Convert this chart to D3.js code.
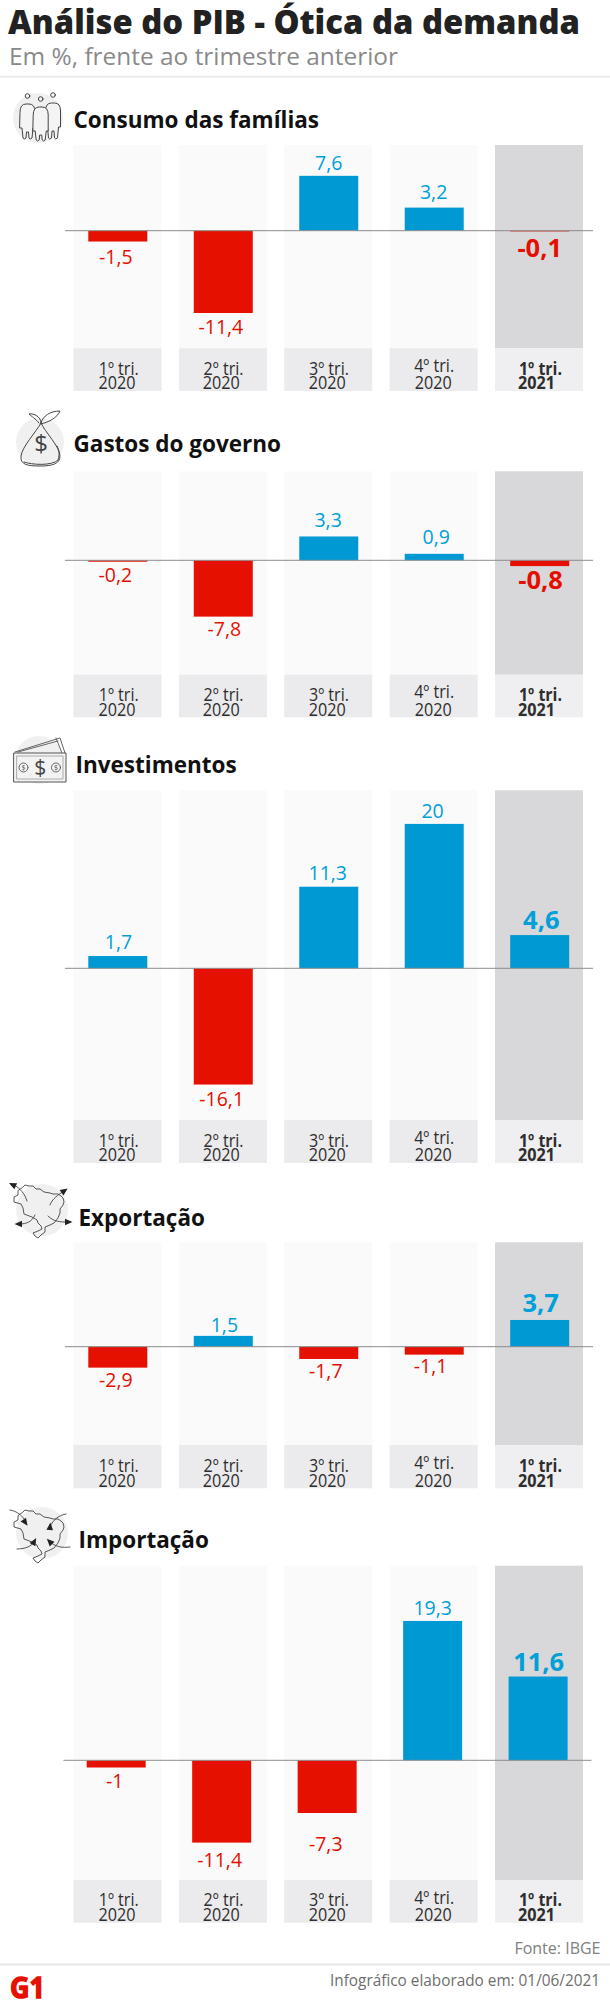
<!DOCTYPE html>
<html lang="pt-BR"><head><meta charset="utf-8">
<script src="https://cdn.jsdelivr.net/npm/d3@7/dist/d3.min.js"></script>
<style>html,body{margin:0;padding:0;background:#fff}svg{display:block}text{font-family:"Open Sans","Noto Sans",sans-serif}</style>
</head><body><div id="c"></div>
<script>
// ---- data ----
const quarters = ["1º tri.","2º tri.","3º tri.","4º tri.","1º tri."];
const years = ["2020","2020","2020","2020","2021"];
const titles = ["Consumo das famílias","Gastos do governo","Investimentos","Exportação","Importação"];
const consumo = [-1.5,-11.4,7.6,3.2,-0.1];
const governo = [-0.2,-7.8,3.3,0.9,-0.8];
const investimentos = [1.7,-16.1,11.3,20,4.6];
const exportacao = [-2.9,1.5,-1.7,-1.1,3.7];
const importacao = [-1,-11.4,-7.3,19.3,11.6];
const series = [consumo,governo,investimentos,exportacao,importacao];

// ---- layout ----
const W=610,H=2014,PX=7.22;
const layout=[
 {top:145,   bgEnd:348.3, end:391,   zero:230.7, tx:73.5, ty:127.7, shift:0},
 {top:471.3, bgEnd:674.7, end:717.3, zero:560.3, tx:73.5, ty:452,   shift:0},
 {top:790.3, bgEnd:1120,  end:1163,  zero:968.3, tx:75.5, ty:773,   shift:0},
 {top:1242.3,bgEnd:1445,  end:1488.3,zero:1346.7,tx:78.5, ty:1225.7,shift:0},
 {top:1565.7,bgEnd:1880,  end:1922.7,zero:1760.3,tx:78.5, ty:1547.7,shift:-1.6}
];
const labelDy=[[22.5,21,-6,-9,25.6],[20.6,19.7,-9.5,-9.8,23],[-7,21,-7,-6,-5.7],[19,-4,19,18.6,-8],[20,24.7,38,-5.7,-5.8]];
const labelDx=[[-2,-2.4,0,-.6,0],[-2.4,1.1,-.6,2,.9],[.7,-1.6,-1,-1.6,1.6],[-2,1.1,-3,-3.6,1],[-1.6,-2,-1.4,0,.6]];

const BLUE="#0099d3",RED="#e61000",TBLUE="#00a0d8",TRED="#e30f00";
const svg=d3.select("#c").append("svg").attr("width",W).attr("height",H).attr("viewBox",`0 0 ${W} ${H}`);
svg.append("rect").attr("width",W).attr("height",H).attr("fill","#fff");

const x=d3.scaleBand().domain(d3.range(5)).range([73.5,583]).paddingInner(0.165).paddingOuter(0);
const fmt=v=>String(v).replace(".",",");

// header
svg.append("text").attr("x",8).attr("y",34).attr("font-size",33).attr("font-weight",800).attr("fill","#222")
 .attr("textLength",572).attr("lengthAdjust","spacingAndGlyphs").text("Análise do PIB - Ótica da demanda");
svg.append("text").attr("x",9).attr("y",65).attr("font-size",23.5).attr("fill","#8a8a8a")
 .attr("textLength",389).attr("lengthAdjust","spacingAndGlyphs").text("Em %, frente ao trimestre anterior");
svg.append("line").attr("x1",0).attr("x2",W).attr("y1",76.7).attr("y2",76.7).attr("stroke","#ececec").attr("stroke-width",2);

series.forEach((vals,p)=>{
 const L=layout[p], g=svg.append("g");
 const y=d3.scaleLinear().domain([0,1]).range([L.zero,L.zero-PX]);
 g.selectAll(".bg").data(vals).join("rect").attr("x",(d,i)=>x(i)).attr("width",x.bandwidth())
  .attr("y",L.top).attr("height",L.bgEnd-L.top).attr("fill",(d,i)=>i==4?"#d8d7da":"#fbfafb");
 g.selectAll(".band").data(vals).join("rect").attr("x",(d,i)=>x(i)).attr("width",x.bandwidth())
  .attr("y",L.bgEnd).attr("height",L.end-L.bgEnd).attr("fill",(d,i)=>i==4?"#efeef0":"#ebeaec");
 const barW=59, cx=i=>x(i)+x.bandwidth()/2+0.3+L.shift+(i*0.1);
 g.selectAll(".bar").data(vals).join("rect")
  .attr("x",(d,i)=>cx(i)-barW/2).attr("width",barW)
  .attr("y",d=>Math.min(y(d),y(0))).attr("height",d=>Math.abs(y(d)-y(0)))
  .attr("fill",d=>d<0?RED:BLUE);
 g.append("line").attr("x1",65+L.shift).attr("x2",593+L.shift).attr("y1",y(0)).attr("y2",y(0)).attr("stroke","#8c8c8c").attr("stroke-width",1);
 g.selectAll(".val").data(vals).join("text")
  .attr("x",(d,i)=>cx(i)+labelDx[p][i]).attr("y",(d,i)=>y(d)+labelDy[p][i])
  .attr("text-anchor","middle").attr("fill",d=>d<0?TRED:TBLUE)
  .attr("font-size",(d,i)=>i==4?25.5:19.5).attr("font-weight",(d,i)=>i==4?700:500).text(fmt);
 g.append("text").attr("x",L.tx).attr("y",L.ty).attr("font-size",22.5).attr("font-weight",700).attr("fill","#111").text(titles[p]);
 const ax=g.append("g").attr("transform",`translate(0,${L.end-42.7})`)
  .call(d3.axisBottom(x).tickSize(0).tickFormat(i=>quarters[i]));
 ax.select(".domain").remove();
 ax.selectAll("text").each(function(i){
  const t=d3.select(this); t.text(null).attr("dy",null).attr("y",0).attr("fill","#2e2e2e").attr("font-size",18)
   .attr("font-family",'"Open Sans"').attr("font-weight",i==4?700:400);
  const dq=[1.2,.7,.7,.5,1.5][i], dy=[-.5,-1.6,-1,-.3,-2.4][i];
  t.append("tspan").attr("x",dq).attr("y",i==3?23.6:26.3).attr("textLength",i==4?43:40).attr("lengthAdjust","spacingAndGlyphs").text(quarters[i]);
  t.append("tspan").attr("x",dy).attr("y",41).attr("textLength",37).attr("lengthAdjust","spacingAndGlyphs").text(years[i]);
 });
});

// icons
const stroke={fill:"none",stroke:"#444","stroke-width":1,"stroke-linejoin":"round","stroke-linecap":"round"};
const apply=(s,o)=>{for(const k in o)s.attr(k,o[k]);return s;};
const disc=(cx,cy,r)=>svg.append("circle").attr("cx",cx).attr("cy",cy).attr("r",r).attr("fill","#f0f0f0");
const path=(g,d,o)=>apply(g.append("path").attr("d",d),Object.assign({},stroke,o||{}));

// people
disc(38,118,25);
{const g=svg.append("g");
 const person=(cx,top,bot,w,ho)=>{
  apply(g.append("circle").attr("cx",cx).attr("cy",top-ho).attr("r",2.3),stroke);
  const l=cx-w/2,r=cx+w/2;
  apply(g.append("path").attr("d",`M${l},${top+8} Q${l},${top} ${l+6},${top} L${r-6},${top} Q${r},${top} ${r},${top+8} L${r},${top+24} L${r-2},${top+24} L${r-3},${bot} q-2,2 -3,0 L${cx+1},${top+28} L${cx-1},${top+28} L${l+6},${bot} q-2,2 -3,0 L${l+2},${top+24} L${l},${top+24} Z`),Object.assign({},stroke,{fill:"#f4f4f4"}));
 };
 person(27.5,104,138,15,8); person(53,103,138,15,8);
 person(40.7,107,140,15,8);
}
// money bag
disc(40,442,24);
{const g=svg.append("g");
 path(g,"M41,423 C36,432 22,447 21,456 C20,465 28,466 40,466 C52,466 60,464 60,456 C60,447 45,432 41,423 Z");
 path(g,"M24,462 C32,465 52,466 58,460 C60,454 59,450 57,446");
 path(g,"M39,423 C35,418 32,417 29,414 C34,413 41,417 41,423 C43,416 50,411 60,411 C57,418 49,422 41,424");
 g.append("text").attr("x",41).attr("y",452).attr("text-anchor","middle").attr("font-size",24).attr("fill","#444").attr("font-family","Liberation Sans").text("$");
}
// banknotes
disc(39,760,24);
{const g=svg.append("g");
 path(g,"M15,752 L60,738 L65,753 M56,738 L62,753 M18,752 L58,741",{"stroke":"#666"});
 path(g,"M14,753 H66 V782 H14 Z",{"fill":"#f3f3f3","stroke":"#555"});
 path(g,"M17,756 H63 V779 H17 Z",{"stroke":"#999","stroke-width":.8});
 [23.5,56].forEach(c=>{path(g,`M${c+4.5},767.5 a4.5,4.5 0 1,0 -9,0 a4.5,4.5 0 1,0 9,0`,{"stroke-width":.8});
  g.append("text").attr("x",c).attr("y",770).attr("text-anchor","middle").attr("font-size",7).attr("fill","#555").text("$");});
 g.append("text").attr("x",40.3).attr("y",775).attr("text-anchor","middle").attr("font-size",21).attr("fill","#444").attr("font-family","Liberation Sans").text("$");
}
// Brazil outline
const mapPts=[[23,17],[25,15],[29,16],[33,16],[36,19],[40,19],[44,22],[50,23],[53,24],[58,24],[61,26],[63,28],[64,32],[63,35],[60,39],[60,43],[58,48],[54,53],[50,55],[45,57],[45,62],[41,65],[38,68],[35,66],[33,63],[38,61],[42,59],[41,56],[38,53],[37,50],[32,47],[24,44],[23,38],[21,34],[14,32],[14,27],[18,25],[18,21]];
const mapLine=d3.line().curve(d3.curveLinear);
const tri=(g,cx,cy,a)=>g.append("path").attr("d","M4.5,0 L-3,-3.3 L-3,3.3 Z").attr("transform",`translate(${cx},${cy}) rotate(${a})`).attr("fill","#222");
disc(42,1210,26);
{const g=svg.append("g").attr("transform","translate(0,1170)");
 path(g,mapLine(mapPts)+"Z",{"stroke-width":.9});
 path(g,"M14,15 C20,18 25,24 27,31 M64,21 C58,25 52,29 50,35 M20,54 C26,54 32,52 35,45 M68,52 C60,52 54,52 48,46",{"stroke-width":.9});
 tri(g,13,15,205);tri(g,64,21,-35);tri(g,19,54,180);tri(g,68,52,0);
}
disc(42,1533,26);
{const g=svg.append("g").attr("transform","translate(0,1495)");
 path(g,mapLine(mapPts)+"Z",{"stroke-width":.9});
 path(g,"M10,15 C17,16 23,21 26,27 M66,19 C60,20 53,24 50,32 M17,54 C24,54 31,52 34,47 M70,52 C62,53 55,52 49,46",{"stroke-width":.9});
 tri(g,25,27,55);tri(g,50,32,-85);tri(g,34,47,-60);tri(g,50,47,-135);
}

// footer
svg.append("text").attr("x",600.5).attr("y",1954.3).attr("text-anchor","end").attr("font-size",16).attr("fill","#808080").text("Fonte: IBGE");
svg.append("line").attr("x1",0).attr("x2",W).attr("y1",1964.5).attr("y2",1964.5).attr("stroke","#e6e6e6").attr("stroke-width",2);
svg.append("text").attr("x",600).attr("y",1985.7).attr("text-anchor","end").attr("font-size",17).attr("fill","#6e6e6e")
 .attr("textLength",270).attr("lengthAdjust","spacingAndGlyphs").text("Infográfico elaborado em: 01/06/2021");
svg.append("text").attr("x",10).attr("y",1998).attr("font-size",29).attr("font-weight",700).attr("font-family","DejaVu Sans").attr("fill",RED)
 .attr("stroke",RED).attr("stroke-width",1.4).attr("textLength",35).attr("lengthAdjust","spacingAndGlyphs").text("G1");
</script></body></html>
